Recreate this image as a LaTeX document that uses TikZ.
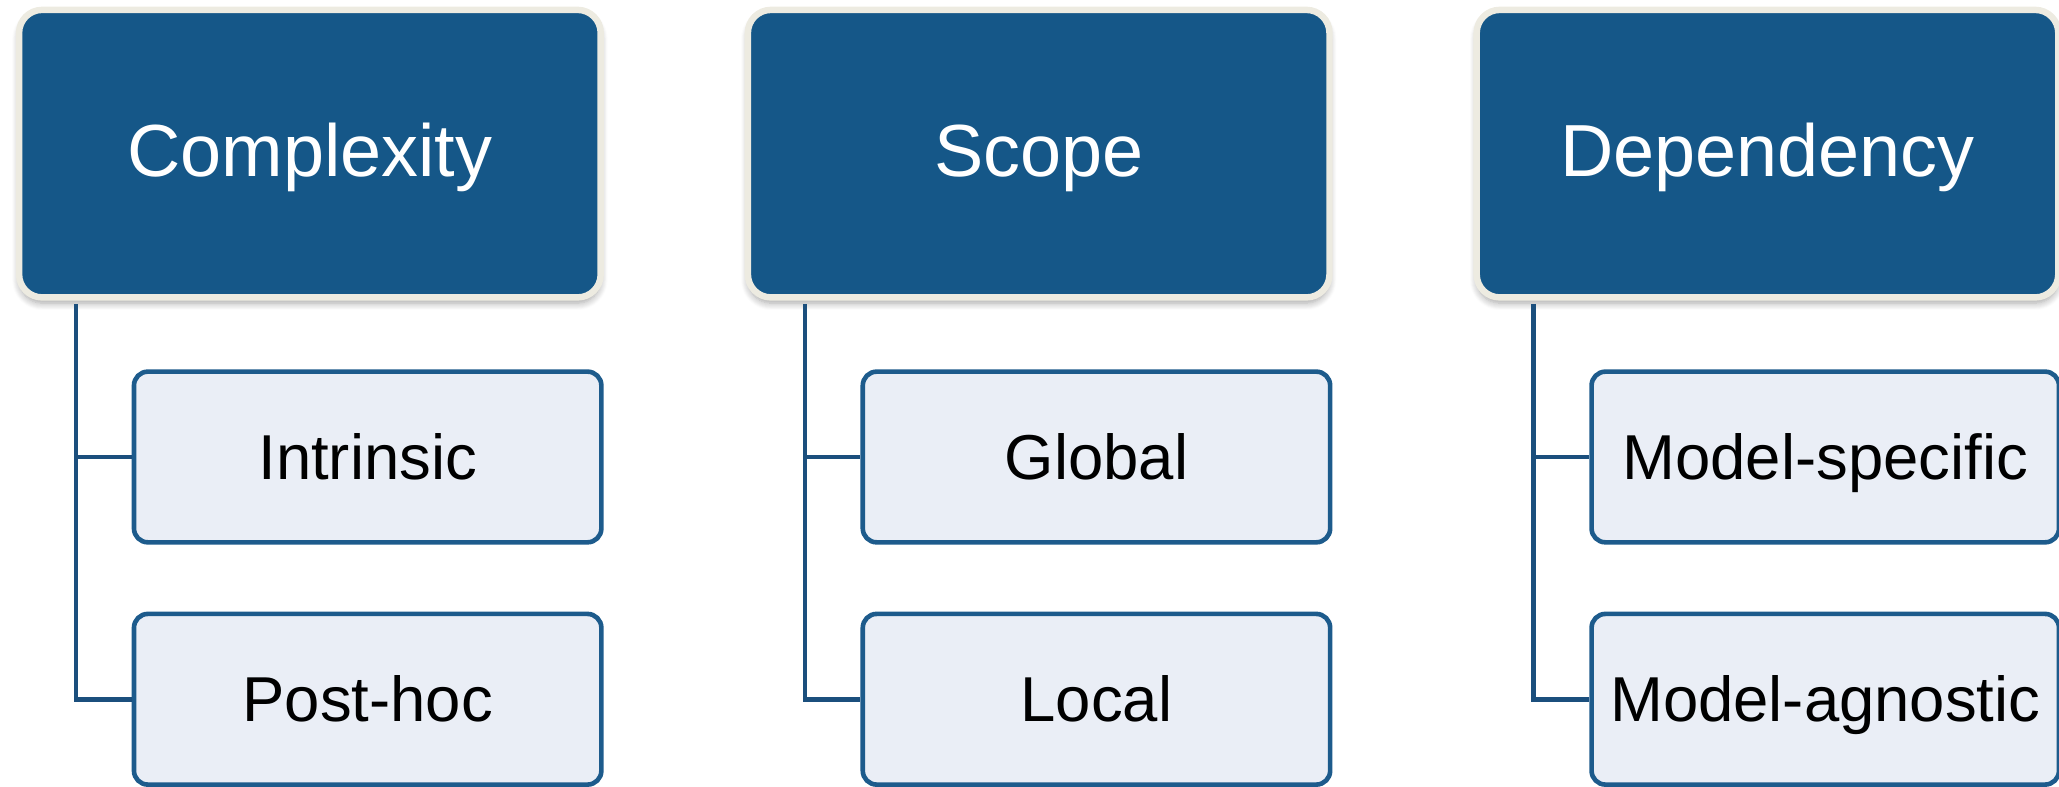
\documentclass[tikz,border=0pt]{standalone}
\usepackage{fontspec}
\setmainfont{Liberation Sans}
\usetikzlibrary{calc,shadows.blur}

\definecolor{hdrblue}{HTML}{155788}
\definecolor{hdrrim}{HTML}{EDEBE1}
\definecolor{leaffill}{HTML}{EAEEF6}
\definecolor{leafedge}{HTML}{1D5B8C}
\definecolor{wire}{HTML}{1B4F7D}

\begin{document}
\begin{tikzpicture}[x=0.02cm,y=-0.02cm,
  header/.style={rectangle, rounded corners=10pt, fill=hdrblue, draw=hdrrim,
    line width=2.8pt, minimum width=8.86cm, minimum height=4.38cm, inner sep=0pt,
    text=white, font=\fontsize{32}{38}\selectfont,
    text height=22.9pt, text depth=3pt,
    blur shadow={shadow xshift=0pt, shadow yshift=-2.5pt, shadow blur radius=3pt,
      shadow blur steps=8, shadow opacity=35}},
  leaf/.style={rectangle, rounded corners=6pt, fill=leaffill, draw=leafedge,
    line width=2pt, minimum width=7.12cm, minimum height=2.6cm, inner sep=0pt,
    text=black, font=\fontsize{27.5}{33}\selectfont,
    text height=19.7pt, text depth=0pt},
  link/.style={draw=wire, line width=2pt}]

  \useasboundingbox (0,0) rectangle (1568,599);

  \foreach \i/\cx/\headtxt/\firsttxt/\secondtxt in {
      1/236/Complexity/Intrinsic/Post-hoc,
      2/791/Scope/Global/Local,
      3/1346/Dependency/Model-specific/Model-agnostic} {
    % category header and its two sub-types
    \node[header] (h\i) at (\cx,117) {\headtxt};
    \node[leaf] (a\i) at (\cx+44,348) {\firsttxt};
    \node[leaf] (b\i) at (\cx+44,532.5) {\secondtxt};
    % tree connectors from the header down to each sub-type
    \coordinate (s\i) at ($(h\i.south)+(-178,2.5)$);
    \draw[link] (s\i) |- (b\i.west);
    \draw[link] (s\i |- a\i.west) -- (a\i.west);
  }
\end{tikzpicture}
\end{document}
